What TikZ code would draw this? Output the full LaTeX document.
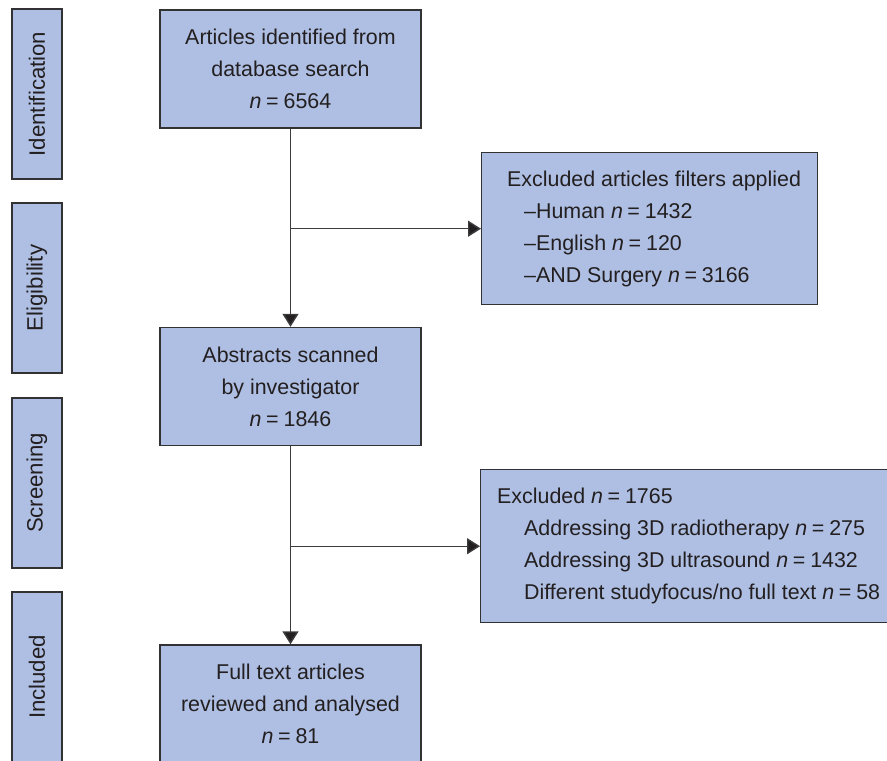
\documentclass[tikz,border=0pt]{standalone}
\usepackage{fontspec}
\setmainfont{Liberation Sans}
\usetikzlibrary{arrows.meta}
\definecolor{boxfill}{RGB}{174,191,227}
\definecolor{boxline}{RGB}{50,50,52}
\definecolor{txt}{RGB}{35,31,32}
\definecolor{conn}{RGB}{60,60,62}
\tikzset{
  base/.style={draw=boxline, fill=boxfill, line width=1.4pt, inner sep=0pt, text=txt,
    font=\fontsize{21.4}{32}\selectfont},
  mainbox/.style={base, minimum width=261pt, minimum height=118pt, align=center},
  sidebox/.style={base, minimum width=50pt, minimum height=170pt},
  sidetext/.style={rotate=90, text=txt, font=\fontsize{22.2}{32}\selectfont, inner sep=0pt},
  exbox/.style={base},
  extext/.style={text=txt, font=\fontsize{21.4}{32}\selectfont, align=left, inner sep=0pt, anchor=west},
  flow/.style={draw=conn, line width=1.4pt, -{Triangle[length=13pt,width=16pt,fill=txt]}},
}
\newcommand{\nn}{\textit{n}\hspace{4.5pt}=\hspace{5pt}}
\begin{document}
\begin{tikzpicture}[x=1pt,y=1pt]
\clip (0,0) rectangle (887,-761);
\fill[white] (0,0) rectangle (887,-761);
% side labels
\node[sidebox] (sid) at (37,-94) {};
\node[sidetext] (tid) at (sid.center) {Identification};
\node[sidebox] (sel) at (37,-288) {};
\node[sidetext] (tel) at (sel.center) {Eligibility};
\node[sidebox] (ssc) at (37,-483) {};
\node[sidetext] (tsc) at (ssc.center) {Screening};
\node[sidebox] (sin) at (37,-677) {};
\node[sidetext] (tin) at (sin.center) {Included};
% main boxes
\node[mainbox] (b1) at (290.5,-69) {Articles identified from\\database search\\\nn 6564};
\node[mainbox] (b2) at (290.5,-386.5) {Abstracts scanned\\by investigator\\\nn 1846};
\node[mainbox] (b3) at (290.5,-704) {Full text articles\\reviewed and analysed\\\nn 81};
% exclusion boxes
\node[exbox, minimum width=336pt, minimum height=152pt, anchor=north west] (e1) at (481,-152) {};
\node[extext] (e1t) at (507,-229) {Excluded articles filters applied\\
\hspace*{17pt}–Human \nn 1432\\
\hspace*{17pt}–English \nn 120\\
\hspace*{17pt}–AND Surgery \nn 3166};
\node[exbox, minimum width=420pt, minimum height=153pt, anchor=north west] (e2) at (480,-469) {};
\node[extext] (e2t) at (497,-546) {Excluded \nn 1765\\
\hspace*{27pt}Addressing 3D radiotherapy \nn 275\\
\hspace*{27pt}Addressing 3D ultrasound \nn 1432\\
\hspace*{27pt}Different studyfocus/no full text \nn 58};
% connectors
\coordinate (j1) at (b1.south |- e1.west);
\coordinate (j2) at (b2.south |- e2.west);
\draw[flow] (b1.south) -- (b2.north);
\draw[flow] (j1) -- (e1.west);
\draw[flow] (b2.south) -- (b3.north);
\draw[flow] (j2) -- (e2.west);
\end{tikzpicture}
\end{document}
